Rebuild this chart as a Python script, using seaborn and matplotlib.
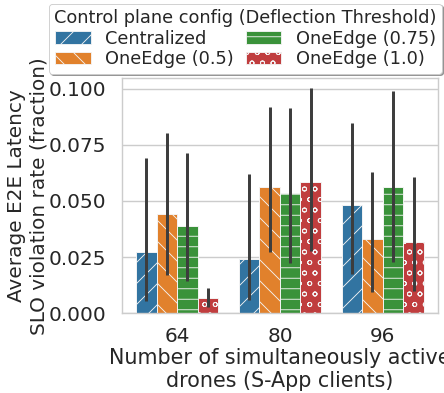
#!/usr/bin/env python3
"""
SLO violation rate per control plane config
"""

import numpy as np
import pandas as pd
import matplotlib
matplotlib.use("Agg")
import matplotlib.pyplot as plt
import seaborn as sns
from matplotlib.patches import Patch

# valores
drones = ["64", "80", "96"]
configs = ["Centralized", "OneEdge (0.5)", "OneEdge (0.75)", "OneEdge (1.0)"]
hatches = ["/", "\\", "-", "o"]

centralized = [0.0273, 0.0242, 0.0483]
oneedge_05 = [0.0442, 0.0562, 0.0332]
oneedge_075 = [0.0388, 0.0537, 0.0562]
oneedge_10 = [0.0069, 0.0583, 0.0316]

# intervalos de confiança (min, max)
ci_low = {
    "Centralized": [0.0055, 0.0059, 0.0173],
    "OneEdge (0.5)": [0.0170, 0.0273, 0.0096],
    "OneEdge (0.75)": [0.0144, 0.0225, 0.0230],
    "OneEdge (1.0)": [0.0029, 0.0277, 0.0100],
}
ci_high = {
    "Centralized": [0.0690, 0.0620, 0.0848],
    "OneEdge (0.5)": [0.0803, 0.0919, 0.0629],
    "OneEdge (0.75)": [0.0712, 0.0915, 0.0990],
    "OneEdge (1.0)": [0.0113, 0.1005, 0.0606],
}

df = pd.DataFrame({
    "drones": drones * 4,
    "config": np.repeat(configs, 3),
    "rate": centralized + oneedge_05 + oneedge_075 + oneedge_10,
})

sns.set_theme(style="whitegrid", rc={"grid.linewidth": 1.6, "axes.linewidth": 1.6})
plt.rcParams["font.family"] = ["DejaVu Sans"]

DPI = 63
fig = plt.figure(figsize=(444 / DPI, 393 / DPI), dpi=DPI)
ax = fig.add_axes([0.274, 0.203, 0.713, 0.598])

sns.barplot(data=df, x="drones", y="rate", hue="config", hue_order=configs,
            order=drones, palette="tab10", errorbar=None, ax=ax,
            edgecolor="#f4f4f4", linewidth=1.1, legend=False)

colors = sns.color_palette("tab10", 4, desat=0.75)
for cont, cfg, h in zip(ax.containers, configs, hatches):
    for i, bar in enumerate(cont):
        bar.set_hatch(h)
        x = bar.get_x() + bar.get_width() / 2
        ax.vlines(x, ci_low[cfg][i], ci_high[cfg][i], color="#3d3d3d", lw=3.4, zorder=5)

ax.set_ylim(0, 0.1047)
ax.set_yticks([0, 0.025, 0.05, 0.075, 0.1])
ax.set_yticklabels(["0.000", "0.025", "0.050", "0.075", "0.100"])
ax.tick_params(axis="y", labelsize=22.8, pad=12)
ax.tick_params(axis="x", labelsize=22.8, pad=10)
ax.set_xlabel("Number of simultaneously active\ndrones (S-App clients)", fontsize=23.5, labelpad=2)
ax.set_ylabel("Average E2E Latency\nSLO violation rate (fraction)", fontsize=22.8, labelpad=0)

handles = [Patch(facecolor=c, edgecolor="#f4f4f4", hatch=h, label=cfg)
           for c, h, cfg in zip(colors, hatches, configs)]
ax.legend(handles=handles, title="Control plane config (Deflection Threshold)",
          ncol=2, loc="lower right", bbox_to_anchor=(1.026, 1.0), fontsize=20.3,
          title_fontsize=20.3, frameon=True, shadow=True, borderaxespad=0.25,
          columnspacing=0.7, handletextpad=0.8, labelspacing=0.15, borderpad=0.3)

plt.savefig("out.png", dpi=DPI)
plt.close()
